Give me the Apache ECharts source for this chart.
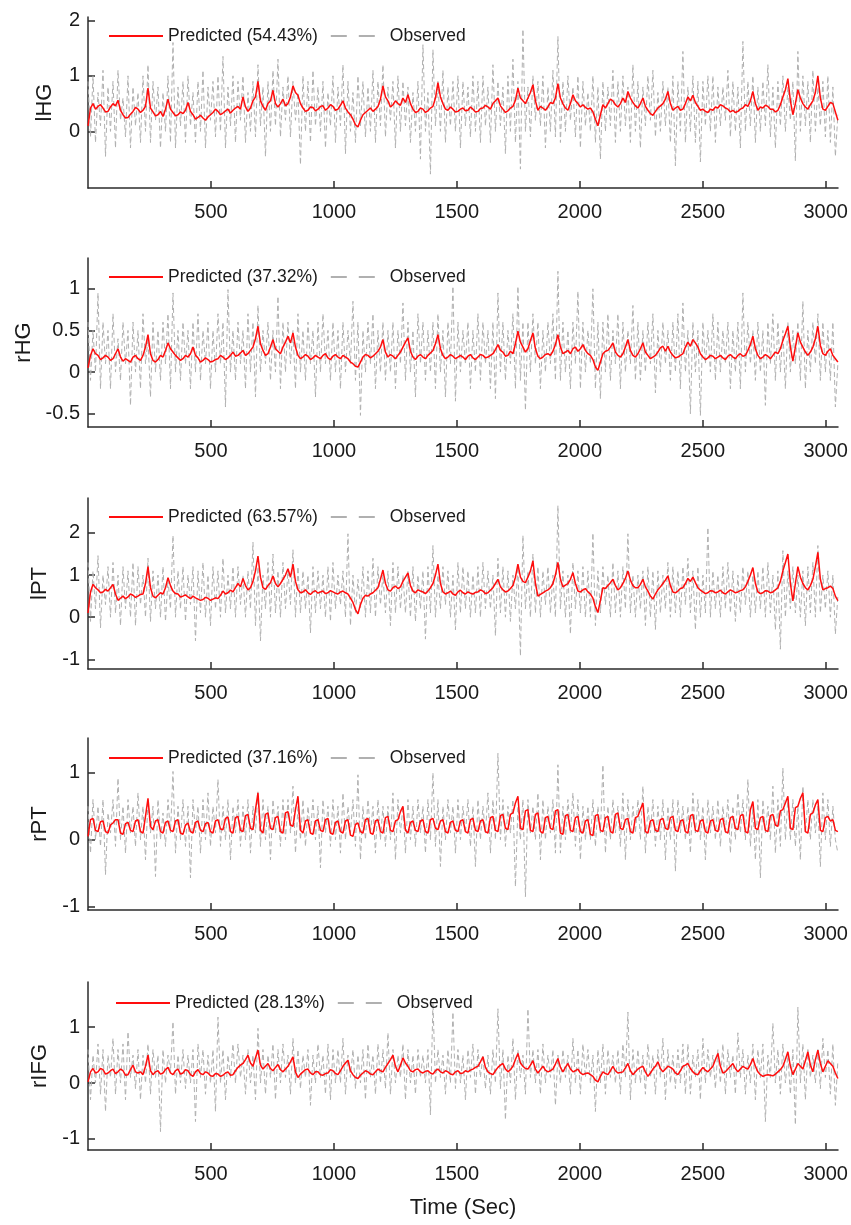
<!DOCTYPE html>
<html>
<head>
<meta charset="utf-8">
<title>Predicted vs observed</title>
<script src="https://cdn.jsdelivr.net/npm/echarts@6/dist/echarts.min.js"></script>
<style>
html, body { margin: 0; padding: 0; background: #fff; }
#chart { width: 851px; height: 1225px; }
</style>
</head>
<body>
<div id="chart"></div>
<script>
// sampling interval of the traces, in seconds
const STEP = 10.165
const timeTicks = [500, 1000, 1500, 2000, 2500, 3000]
const regions = ['lHG', 'rHG', 'lPT', 'rPT', 'rIFG']
const fitPct = ['54.43%', '37.32%', '63.57%', '37.16%', '28.13%']

const lhgTicks = [0, 1, 2]
const rhgTicks = [-0.5, 0, 0.5, 1]
const lptTicks = [-1, 0, 1, 2]
const rptTicks = [-1, 0, 1]
const rifgTicks = [-1, 0, 1]

const lhgPred = [
	0.1, 0.42, 0.5, 0.4, 0.45, 0.48, 0.42, 0.35, 0.36, 0.44, 0.5, 0.46, 0.56, 0.38, 0.3, 0.24, 0.25, 0.31, 0.36, 0.43,
	0.4, 0.34, 0.38, 0.45, 0.78, 0.42, 0.35, 0.28, 0.3, 0.36, 0.27, 0.4, 0.58, 0.4, 0.34, 0.28, 0.3, 0.35, 0.32, 0.38,
	0.52, 0.36, 0.3, 0.22, 0.25, 0.29, 0.24, 0.2, 0.26, 0.3, 0.34, 0.4, 0.36, 0.3, 0.33, 0.37, 0.4, 0.33, 0.38, 0.42,
	0.45, 0.4, 0.62, 0.44, 0.36, 0.42, 0.55, 0.62, 0.9, 0.55, 0.45, 0.38, 0.5, 0.55, 0.74, 0.5, 0.44, 0.5, 0.58, 0.46,
	0.5, 0.62, 0.82, 0.7, 0.65, 0.5, 0.42, 0.36, 0.38, 0.44, 0.43, 0.37, 0.4, 0.45, 0.46, 0.38, 0.42, 0.48, 0.45, 0.38,
	0.4, 0.47, 0.55, 0.42, 0.35, 0.3, 0.22, 0.12, 0.08, 0.2, 0.3, 0.34, 0.38, 0.42, 0.36, 0.4, 0.45, 0.58, 0.82, 0.62,
	0.55, 0.44, 0.48, 0.55, 0.5, 0.47, 0.6, 0.52, 0.66, 0.5, 0.4, 0.34, 0.36, 0.42, 0.4, 0.34, 0.37, 0.42, 0.45, 0.6,
	0.88, 0.62, 0.5, 0.4, 0.38, 0.44, 0.4, 0.35, 0.36, 0.4, 0.42, 0.37, 0.38, 0.44, 0.4, 0.35, 0.36, 0.41, 0.42, 0.47,
	0.44, 0.4, 0.5, 0.55, 0.6, 0.46, 0.4, 0.34, 0.37, 0.42, 0.45, 0.56, 0.78, 0.6, 0.55, 0.5, 0.6, 0.7, 0.84, 0.55,
	0.38, 0.45, 0.42, 0.38, 0.44, 0.52, 0.5, 0.6, 0.86, 0.6, 0.5, 0.42, 0.38, 0.5, 0.66, 0.55, 0.5, 0.44, 0.48, 0.43,
	0.4, 0.42, 0.35, 0.22, 0.1, 0.3, 0.48, 0.42, 0.5, 0.58, 0.55, 0.48, 0.44, 0.5, 0.6, 0.52, 0.72, 0.6, 0.52, 0.46,
	0.42, 0.5, 0.6, 0.45, 0.38, 0.32, 0.29, 0.36, 0.42, 0.46, 0.5, 0.58, 0.72, 0.5, 0.38, 0.42, 0.45, 0.38, 0.4, 0.5,
	0.62, 0.55, 0.65, 0.52, 0.45, 0.38, 0.4, 0.36, 0.34, 0.4, 0.38, 0.44, 0.42, 0.48, 0.46, 0.42, 0.4, 0.35, 0.38, 0.34,
	0.36, 0.4, 0.42, 0.48, 0.45, 0.55, 0.72, 0.5, 0.38, 0.44, 0.42, 0.47, 0.45, 0.4, 0.4, 0.35, 0.38, 0.48, 0.62, 0.75,
	0.95, 0.55, 0.3, 0.5, 0.75, 0.6, 0.5, 0.44, 0.4, 0.48, 0.55, 0.7, 1.0, 0.6, 0.4, 0.38, 0.45, 0.52, 0.5, 0.35,
	0.2,
]
const lhgObs = [
	0.9, -0.1, 1.0, -0.2, 0.7, 0.1, 1.1, -0.45, 0.8, 0.0, 0.9, -0.3, 1.1, 0.2, 0.6, -0.1, 1.0, -0.3, 0.8, 0.1,
	0.7, -0.2, 1.0, 0.0, 1.2, -0.2, 0.9, 0.2, 0.8, -0.3, 0.7, 0.0, 1.0, -0.2, 1.6, -0.3, 0.8, 0.1, 0.9, -0.2,
	1.0, 0.1, 0.7, -0.2, 0.9, 0.0, 1.1, -0.3, 0.8, 0.2, 0.9, -0.1, 1.0, 0.0, 1.35, -0.3, 0.8, 0.1, 1.0, -0.2,
	0.9, 0.2, 1.0, -0.2, 0.7, 0.0, 0.9, -0.1, 1.2, 0.1, 0.8, -0.45, 0.9, 0.0, 1.1, 0.1, 1.3, -0.1, 0.8, 0.2,
	1.0, -0.1, 0.9, 0.2, 0.7, -0.6, 1.0, 0.0, 0.9, -0.2, 1.1, 0.1, 0.8, 0.0, 0.9, -0.3, 0.7, 0.1, 1.0, -0.2,
	0.8, 0.1, 1.2, -0.4, 0.9, 0.0, 0.7, -0.2, 1.0, 0.1, 0.9, -0.1, 0.8, 0.0, 1.1, -0.2, 0.9, 0.1, 1.2, -0.1,
	0.8, 0.2, 0.9, -0.3, 1.0, 0.0, 0.9, 0.1, 0.8, -0.2, 0.7, 0.0, 0.9, -0.5, 1.56, 0.0, 0.7, -0.77, 1.47, 0.1,
	0.9, 0.0, 1.1, -0.2, 0.8, 0.1, 0.9, 0.0, 1.0, -0.3, 0.9, 0.1, 0.8, -0.1, 1.0, 0.0, 0.9, -0.2, 1.0, 0.1,
	0.8, -0.2, 1.2, 0.0, 0.9, 0.1, 0.8, -0.4, 1.0, 0.0, 1.3, -0.2, 0.9, -0.68, 1.84, 0.0, 0.8, -0.1, 1.0, 0.2,
	0.9, 0.1, 1.0, -0.3, 0.8, 0.0, 1.1, -0.1, 1.71, -0.2, 0.9, 0.0, 1.0, 0.2, 0.8, -0.1, 1.0, -0.3, 0.9, 0.1,
	0.7, 0.0, 1.0, -0.2, 0.8, -0.5, 0.9, 0.0, 0.8, 0.1, 1.1, -0.2, 0.9, 0.0, 1.0, 0.1, 0.8, -0.2, 1.2, 0.0,
	0.9, -0.3, 0.8, 0.1, 1.0, 0.2, 1.1, -0.1, 0.7, 0.0, 0.9, 0.1, 0.8, -0.2, 1.0, -0.62, 0.9, 0.0, 1.44, -0.2,
	0.8, 0.0, 1.0, -0.2, 0.9, -0.55, 0.9, 0.1, 1.0, 0.0, 1.0, -0.2, 0.8, 0.1, 0.8, 0.2, 1.1, -0.1, 0.9, 0.0,
	0.8, -0.3, 1.62, 0.0, 0.9, 0.1, 1.0, -0.2, 0.8, 0.0, 0.9, 0.1, 1.2, -0.1, 0.8, -0.3, 0.9, 0.1, 1.0, 0.0,
	0.8, 0.2, 0.9, -0.53, 1.44, 0.0, 1.0, 0.1, 0.9, -0.2, 1.1, 0.0, 0.8, 0.1, 0.9, -0.1, 1.0, -0.2, 0.8, -0.45,
	0.3,
]

const rhgPred = [
	0.05, 0.2, 0.28, 0.22, 0.2, 0.15, 0.17, 0.2, 0.18, 0.14, 0.16, 0.22, 0.28, 0.18, 0.13, 0.16, 0.14, 0.12, 0.18, 0.2,
	0.16, 0.14, 0.2, 0.3, 0.45, 0.22, 0.14, 0.12, 0.15, 0.2, 0.18, 0.26, 0.35, 0.28, 0.24, 0.2, 0.17, 0.14, 0.16, 0.2,
	0.18, 0.22, 0.3, 0.2, 0.17, 0.12, 0.14, 0.17, 0.15, 0.12, 0.13, 0.15, 0.16, 0.2, 0.18, 0.15, 0.17, 0.2, 0.24, 0.19,
	0.2, 0.23, 0.26, 0.2, 0.22, 0.26, 0.3, 0.4, 0.55, 0.34, 0.26, 0.2, 0.22, 0.3, 0.39, 0.28, 0.25, 0.22, 0.3, 0.36,
	0.43, 0.35, 0.47, 0.3, 0.2, 0.16, 0.18, 0.21, 0.19, 0.15, 0.17, 0.2, 0.18, 0.16, 0.2, 0.22, 0.17, 0.15, 0.19, 0.21,
	0.18, 0.16, 0.2, 0.18, 0.16, 0.12, 0.1, 0.07, 0.06, 0.12, 0.18, 0.21, 0.2, 0.17, 0.19, 0.22, 0.25, 0.3, 0.39, 0.24,
	0.18, 0.21, 0.19, 0.16, 0.2, 0.24, 0.3, 0.36, 0.41, 0.25, 0.18, 0.15, 0.19, 0.21, 0.18, 0.16, 0.2, 0.23, 0.26, 0.34,
	0.45, 0.28, 0.2, 0.16, 0.18, 0.21, 0.19, 0.16, 0.18, 0.2, 0.18, 0.15, 0.19, 0.21, 0.17, 0.15, 0.18, 0.21, 0.2, 0.17,
	0.18, 0.2, 0.22, 0.27, 0.33, 0.26, 0.24, 0.19, 0.2, 0.25, 0.22, 0.34, 0.49, 0.36, 0.3, 0.24, 0.28, 0.38, 0.47, 0.28,
	0.19, 0.16, 0.18, 0.21, 0.22, 0.2, 0.25, 0.33, 0.45, 0.3, 0.22, 0.24, 0.26, 0.22, 0.28, 0.3, 0.25, 0.28, 0.33, 0.26,
	0.22, 0.2, 0.15, 0.06, 0.02, 0.12, 0.22, 0.25, 0.26, 0.3, 0.35, 0.24, 0.2, 0.18, 0.22, 0.3, 0.39, 0.26, 0.2, 0.18,
	0.22, 0.28, 0.35, 0.24, 0.2, 0.16, 0.18, 0.2, 0.24, 0.29, 0.31, 0.25, 0.31, 0.24, 0.2, 0.17, 0.18, 0.2, 0.22, 0.3,
	0.36, 0.31, 0.39, 0.35, 0.3, 0.22, 0.18, 0.15, 0.17, 0.2, 0.19, 0.16, 0.18, 0.2, 0.17, 0.15, 0.19, 0.21, 0.18, 0.16,
	0.2, 0.22, 0.19, 0.2, 0.26, 0.33, 0.43, 0.28, 0.2, 0.16, 0.18, 0.21, 0.19, 0.16, 0.2, 0.24, 0.22, 0.28, 0.38, 0.46,
	0.55, 0.3, 0.13, 0.3, 0.47, 0.36, 0.3, 0.24, 0.2, 0.24, 0.3, 0.4, 0.55, 0.32, 0.22, 0.2, 0.25, 0.28, 0.2, 0.16,
	0.12,
]
const rhgObs = [
	0.6, -0.1, 0.5, 0.0, 0.95, -0.2, 0.6, 0.1, 0.5, -0.2, 0.7, 0.0, 0.4, -0.1, 0.6, 0.1, 0.5, -0.4, 0.6, 0.0,
	0.5, -0.2, 0.7, 0.1, 0.4, -0.3, 0.6, 0.0, 0.5, -0.1, 0.6, 0.1, 0.7, -0.2, 0.95, 0.0, 0.5, -0.1, 0.6, 0.1,
	0.5, -0.2, 0.6, 0.0, 0.7, -0.1, 0.5, 0.1, 0.6, -0.2, 0.5, 0.0, 0.7, 0.1, 0.6, -0.42, 0.99, 0.0, 0.5, -0.1,
	0.6, 0.1, 0.5, -0.2, 0.7, 0.0, 0.6, -0.3, 0.8, 0.0, 0.5, 0.1, 0.6, -0.1, 0.5, 0.0, 0.91, -0.2, 0.6, 0.0,
	0.6, 0.1, 0.5, -0.2, 0.7, 0.0, 0.5, -0.1, 0.6, 0.1, 0.5, -0.3, 0.6, 0.0, 0.7, 0.1, 0.5, -0.1, 0.6, 0.0,
	0.5, -0.2, 0.6, 0.0, 0.5, 0.1, 0.85, -0.1, 0.6, -0.52, 0.5, 0.0, 0.6, 0.1, 0.7, -0.2, 0.5, 0.0, 0.6, -0.1,
	0.5, 0.0, 0.6, -0.2, 0.5, 0.1, 0.83, -0.1, 0.6, 0.0, 0.5, -0.3, 0.7, 0.1, 0.6, -0.1, 0.5, 0.0, 0.6, -0.2,
	0.7, 0.0, 0.5, -0.3, 0.6, 0.1, 1.03, -0.35, 0.6, 0.0, 0.5, 0.1, 0.6, -0.2, 0.5, 0.0, 0.7, -0.1, 0.6, 0.1,
	0.5, -0.2, 0.6, -0.32, 0.95, 0.0, 0.6, -0.1, 0.5, 0.1, 0.7, -0.2, 1.03, -0.1, 0.6, -0.46, 0.6, 0.0, 0.7, 0.1,
	0.6, -0.2, 0.5, 0.0, 0.6, 0.1, 0.7, -0.1, 1.21, -0.1, 0.6, 0.0, 0.5, -0.2, 0.6, 0.1, 0.97, -0.2, 0.6, 0.0,
	0.5, 0.1, 1.0, -0.2, 0.6, -0.32, 0.6, 0.0, 0.7, -0.1, 0.5, 0.1, 0.7, -0.2, 0.6, 0.0, 0.5, 0.1, 0.8, -0.1,
	0.6, -0.1, 0.5, 0.0, 0.6, 0.1, 0.7, -0.25, 0.5, 0.0, 0.6, 0.1, 0.5, -0.1, 0.6, 0.0, 0.7, -0.2, 0.83, 0.0,
	0.5, -0.5, 0.6, 0.0, 0.5, -0.52, 0.6, 0.1, 0.5, 0.0, 0.7, -0.1, 0.6, 0.0, 0.5, 0.1, 0.6, -0.2, 0.5, 0.0,
	0.6, -0.2, 0.95, 0.0, 0.6, 0.1, 0.5, -0.1, 0.6, 0.0, 0.5, -0.4, 0.6, 0.1, 0.7, -0.1, 0.6, 0.0, 0.5, -0.2,
	0.6, 0.0, 0.5, 0.1, 0.6, -0.1, 0.85, -0.2, 0.5, 0.0, 0.6, 0.1, 0.7, -0.1, 0.6, 0.0, 0.5, -0.1, 0.6, -0.42,
	0.1,
]

const lptPred = [
	0.1, 0.6, 0.78, 0.7, 0.65, 0.58, 0.6, 0.66, 0.62, 0.7, 0.78, 0.55, 0.4, 0.45, 0.5, 0.44, 0.48, 0.55, 0.52, 0.47,
	0.5, 0.54, 0.55, 0.8, 1.2, 0.7, 0.5, 0.46, 0.52, 0.58, 0.55, 0.7, 0.94, 0.75, 0.62, 0.56, 0.55, 0.48, 0.5, 0.53,
	0.48, 0.44, 0.5, 0.46, 0.43, 0.4, 0.42, 0.47, 0.45, 0.4, 0.43, 0.46, 0.44, 0.52, 0.62, 0.55, 0.58, 0.64, 0.6, 0.7,
	0.8, 0.72, 0.92, 0.75, 0.65, 0.7, 0.85, 1.1, 1.45, 0.95, 0.7, 0.66, 0.75, 0.82, 0.98, 0.8, 0.72, 0.8, 0.9, 1.0,
	1.15, 0.95, 1.26, 0.85, 0.65, 0.58, 0.6, 0.65, 0.58, 0.54, 0.6, 0.63, 0.57, 0.6, 0.62, 0.56, 0.58, 0.63, 0.6, 0.57,
	0.55, 0.6, 0.62, 0.58, 0.55, 0.45, 0.35, 0.18, 0.08, 0.3, 0.45, 0.52, 0.5, 0.55, 0.58, 0.64, 0.7, 0.9, 1.12, 0.8,
	0.65, 0.62, 0.7, 0.74, 0.68, 0.72, 0.85, 0.95, 1.05, 0.75, 0.62, 0.58, 0.65, 0.62, 0.6, 0.56, 0.62, 0.7, 0.8, 1.0,
	1.26, 0.8, 0.6, 0.55, 0.58, 0.62, 0.55, 0.52, 0.6, 0.64, 0.58, 0.55, 0.6, 0.57, 0.55, 0.59, 0.6, 0.65, 0.62, 0.56,
	0.58, 0.64, 0.7, 0.8, 0.9, 0.72, 0.65, 0.6, 0.62, 0.68, 0.75, 0.95, 1.26, 0.95, 0.85, 0.82, 0.95, 1.1, 1.34, 0.8,
	0.5, 0.54, 0.58, 0.62, 0.65, 0.7, 0.8, 1.0, 1.3, 0.9, 0.72, 0.76, 0.8, 0.9, 1.06, 0.8, 0.62, 0.6, 0.65, 0.68,
	0.6, 0.55, 0.45, 0.25, 0.11, 0.4, 0.7, 0.68, 0.75, 0.82, 0.9, 0.75, 0.65, 0.7, 0.8, 0.92, 1.1, 0.88, 0.75, 0.7,
	0.7, 0.78, 0.9, 0.72, 0.62, 0.5, 0.43, 0.55, 0.65, 0.72, 0.8, 0.88, 0.98, 0.75, 0.6, 0.58, 0.62, 0.68, 0.7, 0.8,
	0.92, 0.85, 0.95, 0.82, 0.7, 0.64, 0.6, 0.56, 0.58, 0.63, 0.62, 0.58, 0.6, 0.64, 0.58, 0.55, 0.6, 0.65, 0.62, 0.58,
	0.6, 0.63, 0.65, 0.72, 0.85, 1.0, 1.18, 0.8, 0.6, 0.56, 0.58, 0.63, 0.62, 0.58, 0.6, 0.65, 0.7, 0.85, 1.1, 1.3,
	1.5, 0.8, 0.39, 0.8, 1.2, 0.95, 0.8, 0.7, 0.65, 0.75, 0.9, 1.2, 1.54, 0.9, 0.65, 0.68, 0.7, 0.74, 0.68, 0.5,
	0.39,
]
const lptObs = [
	1.3, -0.1, 1.1, 0.2, 1.46, -0.25, 1.0, 0.3, 1.2, 0.0, 1.3, 0.1, 1.0, -0.2, 1.2, 0.2, 1.1, 0.0, 1.3, -0.2,
	1.2, 0.3, 1.0, 0.0, 1.4, -0.1, 1.1, 0.2, 1.0, 0.0, 1.2, -0.1, 0.9, 0.2, 1.94, 0.0, 1.1, 0.2, 1.2, -0.1,
	1.0, 0.3, 1.2, -0.56, 1.1, 0.1, 1.3, 0.0, 1.0, -0.2, 1.2, 0.2, 1.1, 0.0, 1.4, 0.1, 1.0, 0.2, 1.2, 0.0,
	1.2, 0.3, 1.0, 0.0, 1.1, 0.2, 1.78, -0.2, 1.2, -0.56, 1.0, 0.2, 1.3, 0.0, 1.5, 0.1, 1.1, 0.0, 1.3, 0.2,
	1.1, 0.3, 1.6, 0.0, 1.2, 0.1, 1.1, 0.2, 1.0, -0.37, 1.2, 0.1, 1.1, 0.2, 1.0, 0.0, 1.2, -0.1, 1.3, 0.2,
	1.0, 0.3, 1.1, 0.0, 1.98, -0.2, 1.0, 0.1, 0.9, 0.2, 1.2, 0.0, 1.1, 0.1, 1.4, 0.0, 1.2, 0.3, 1.0, 0.1,
	1.1, -0.2, 1.3, 0.1, 1.2, 0.2, 1.0, 0.1, 1.1, 0.0, 1.2, -0.1, 1.0, 0.2, 1.1, -0.52, 1.2, 0.1, 1.7, 0.0,
	1.0, 0.2, 1.2, 0.3, 1.1, 0.0, 1.0, -0.3, 1.3, 0.1, 1.2, 0.2, 1.1, 0.0, 1.0, 0.1, 1.2, 0.0, 1.3, 0.2,
	1.1, 0.2, 1.0, -0.44, 1.4, 0.1, 1.2, 0.0, 1.1, -0.1, 1.0, 0.2, 1.2, -0.92, 1.94, 0.2, 1.1, 0.0, 1.5, 0.1,
	1.2, 0.0, 1.1, 0.3, 1.2, 0.1, 1.0, 0.0, 2.65, 0.2, 1.1, 0.0, 1.0, -0.4, 1.3, 0.2, 1.1, 0.1, 1.2, 0.0,
	1.1, 0.0, 2.0, -0.2, 1.1, 0.1, 1.2, 0.3, 1.0, 0.0, 1.3, 0.1, 1.1, 0.0, 1.2, 0.2, 1.98, 0.1, 1.0, 0.0,
	1.0, 0.2, 1.1, -0.2, 1.2, 0.0, 1.1, -0.29, 1.1, 0.1, 1.0, 0.2, 1.3, 0.0, 1.2, 0.1, 1.1, 0.0, 1.2, 0.3,
	1.4, 0.1, 1.1, -0.3, 1.2, 0.0, 1.0, 0.1, 2.13, 0.0, 1.1, 0.2, 1.0, 0.0, 1.2, 0.2, 1.3, 0.1, 1.1, -0.1,
	1.0, 0.1, 1.2, 0.3, 1.1, 0.0, 1.0, 0.1, 1.1, 0.2, 1.2, 0.0, 1.3, 0.1, 1.0, -0.3, 1.1, -0.76, 1.58, 0.0,
	1.1, 0.2, 1.2, 0.1, 1.0, 0.0, 1.1, -0.2, 1.2, 0.1, 1.3, 0.0, 1.7, 0.1, 1.0, 0.2, 1.1, 0.0, 1.0, -0.4,
	0.5,
]

const rptPred = [
	0.05, 0.3, 0.32, 0.14, 0.12, 0.27, 0.28, 0.12, 0.1, 0.22, 0.25, 0.3, 0.3, 0.1, 0.08, 0.24, 0.26, 0.14, 0.12, 0.28,
	0.3, 0.12, 0.1, 0.35, 0.62, 0.2, 0.15, 0.28, 0.3, 0.12, 0.1, 0.26, 0.28, 0.14, 0.12, 0.28, 0.3, 0.1, 0.08, 0.22,
	0.25, 0.12, 0.1, 0.26, 0.28, 0.14, 0.12, 0.24, 0.26, 0.12, 0.1, 0.28, 0.3, 0.16, 0.15, 0.32, 0.34, 0.12, 0.1, 0.33,
	0.35, 0.14, 0.12, 0.36, 0.38, 0.17, 0.15, 0.45, 0.7, 0.14, 0.1, 0.38, 0.4, 0.17, 0.15, 0.33, 0.35, 0.12, 0.1, 0.4,
	0.42, 0.22, 0.2, 0.45, 0.65, 0.14, 0.1, 0.28, 0.3, 0.1, 0.08, 0.28, 0.3, 0.14, 0.12, 0.3, 0.32, 0.1, 0.08, 0.26,
	0.28, 0.12, 0.1, 0.28, 0.3, 0.07, 0.05, 0.23, 0.25, 0.12, 0.1, 0.3, 0.32, 0.1, 0.08, 0.28, 0.3, 0.12, 0.1, 0.33,
	0.35, 0.14, 0.12, 0.28, 0.3, 0.42, 0.5, 0.14, 0.1, 0.26, 0.28, 0.14, 0.12, 0.28, 0.3, 0.12, 0.1, 0.3, 0.32, 0.17,
	0.15, 0.28, 0.3, 0.12, 0.1, 0.26, 0.28, 0.14, 0.12, 0.28, 0.3, 0.12, 0.1, 0.3, 0.32, 0.14, 0.12, 0.28, 0.3, 0.12,
	0.1, 0.33, 0.35, 0.14, 0.12, 0.36, 0.38, 0.17, 0.15, 0.38, 0.4, 0.55, 0.65, 0.17, 0.15, 0.43, 0.45, 0.14, 0.12, 0.38,
	0.4, 0.12, 0.1, 0.33, 0.35, 0.17, 0.15, 0.43, 0.45, 0.1, 0.08, 0.36, 0.38, 0.14, 0.12, 0.33, 0.35, 0.12, 0.1, 0.28,
	0.3, 0.08, 0.06, 0.36, 0.38, 0.14, 0.12, 0.33, 0.35, 0.12, 0.1, 0.38, 0.4, 0.17, 0.15, 0.3, 0.32, 0.12, 0.1, 0.33,
	0.35, 0.45, 0.55, 0.12, 0.1, 0.28, 0.3, 0.14, 0.12, 0.3, 0.32, 0.17, 0.15, 0.33, 0.35, 0.14, 0.12, 0.28, 0.3, 0.12,
	0.1, 0.36, 0.38, 0.14, 0.12, 0.28, 0.3, 0.12, 0.1, 0.28, 0.3, 0.14, 0.12, 0.3, 0.32, 0.12, 0.1, 0.33, 0.35, 0.17,
	0.15, 0.36, 0.38, 0.12, 0.1, 0.45, 0.57, 0.17, 0.15, 0.33, 0.35, 0.14, 0.12, 0.36, 0.38, 0.22, 0.2, 0.43, 0.45, 0.55,
	0.65, 0.17, 0.15, 0.48, 0.5, 0.62, 0.7, 0.12, 0.1, 0.38, 0.4, 0.52, 0.6, 0.14, 0.12, 0.33, 0.35, 0.28, 0.3, 0.14,
	0.12,
]
const rptObs = [
	0.5, -0.2, 0.6, 0.0, 0.5, -0.1, 0.6, -0.52, 0.4, 0.1, 0.6, -0.1, 0.92, 0.0, 0.5, -0.2, 0.6, 0.1, 0.5, -0.1,
	0.7, 0.0, 0.5, -0.3, 0.6, 0.1, 0.5, -0.55, 0.6, 0.0, 0.4, -0.1, 0.6, 0.1, 1.02, -0.2, 0.5, 0.0, 0.6, -0.1,
	0.5, -0.57, 0.6, 0.1, 0.5, -0.2, 0.6, 0.0, 0.7, -0.1, 0.5, 0.1, 0.9, -0.1, 0.5, 0.0, 0.6, -0.3, 0.5, 0.1,
	0.6, -0.1, 0.5, 0.0, 0.6, -0.2, 0.5, 0.1, 0.72, -0.1, 0.6, 0.0, 0.5, -0.3, 0.6, 0.1, 0.5, -0.1, 0.6, 0.0,
	0.6, 0.1, 0.8, -0.2, 0.5, 0.0, 0.6, -0.1, 0.5, 0.1, 0.6, 0.0, 0.5, -0.42, 0.6, 0.1, 0.5, -0.1, 0.6, 0.0,
	0.5, -0.2, 0.7, 0.0, 0.5, 0.1, 0.6, -0.1, 0.97, -0.3, 0.5, 0.0, 0.6, 0.1, 0.5, -0.2, 0.6, 0.0, 0.5, -0.1,
	0.5, 0.0, 0.7, -0.3, 0.6, 0.1, 0.5, -0.2, 0.6, 0.0, 0.5, -0.1, 0.6, 0.1, 0.5, -0.2, 0.6, 0.0, 1.0, -0.1,
	0.6, -0.4, 0.5, 0.0, 0.6, 0.1, 0.5, -0.2, 0.6, 0.0, 0.5, 0.1, 0.6, -0.1, 0.5, -0.4, 0.6, 0.0, 0.5, 0.1,
	0.7, -0.2, 0.6, 0.0, 1.29, 0.0, 0.6, -0.1, 0.5, 0.1, 0.6, -0.7, 0.5, 0.0, 0.6, -0.85, 0.6, 0.1, 0.5, 0.0,
	0.7, -0.3, 0.6, 0.0, 0.5, 0.1, 0.6, -0.2, 1.12, -0.2, 0.5, 0.0, 0.6, 0.1, 0.7, -0.1, 0.6, -0.3, 0.5, 0.0,
	0.5, 0.0, 0.6, -0.1, 0.5, 0.1, 1.12, -0.2, 0.5, 0.0, 0.6, 0.1, 0.5, -0.1, 0.7, -0.3, 0.6, 0.0, 0.5, 0.1,
	0.6, 0.0, 0.8, -0.2, 0.5, 0.1, 0.6, -0.1, 0.5, 0.0, 0.6, -0.3, 0.5, 0.0, 0.6, -0.47, 0.6, 0.1, 0.5, 0.0,
	0.5, -0.2, 0.7, 0.1, 0.6, 0.0, 0.5, -0.3, 0.6, 0.1, 0.5, 0.0, 0.6, -0.1, 0.5, 0.1, 0.6, -0.2, 0.5, 0.0,
	0.7, 0.1, 0.6, 0.0, 0.9, -0.1, 0.5, -0.3, 0.6, -0.57, 0.6, 0.1, 0.5, 0.0, 0.8, -0.2, 0.6, -0.1, 1.07, 0.0,
	0.6, 0.0, 0.6, -0.1, 0.5, -0.3, 0.8, 0.1, 0.6, 0.0, 0.6, 0.1, 0.5, -0.4, 0.7, 0.0, 0.6, -0.1, 0.5, 0.0,
	-0.2,
]

const rifgPred = [
	0.02, 0.2, 0.26, 0.18, 0.2, 0.26, 0.24, 0.16, 0.18, 0.22, 0.25, 0.17, 0.2, 0.25, 0.22, 0.14, 0.15, 0.24, 0.32, 0.2,
	0.18, 0.2, 0.15, 0.3, 0.5, 0.22, 0.15, 0.2, 0.22, 0.16, 0.18, 0.24, 0.28, 0.18, 0.15, 0.22, 0.25, 0.16, 0.18, 0.24,
	0.22, 0.15, 0.12, 0.2, 0.24, 0.17, 0.15, 0.2, 0.18, 0.13, 0.12, 0.17, 0.16, 0.12, 0.14, 0.18, 0.2, 0.14, 0.15, 0.22,
	0.28, 0.32, 0.35, 0.42, 0.5, 0.36, 0.3, 0.45, 0.59, 0.32, 0.25, 0.3, 0.35, 0.26, 0.22, 0.28, 0.33, 0.24, 0.2, 0.25,
	0.3, 0.38, 0.47, 0.2, 0.1, 0.16, 0.2, 0.24, 0.25, 0.18, 0.15, 0.2, 0.2, 0.15, 0.14, 0.17, 0.18, 0.24, 0.22, 0.17,
	0.15, 0.22, 0.3, 0.36, 0.41, 0.22, 0.15, 0.1, 0.08, 0.14, 0.18, 0.22, 0.2, 0.16, 0.15, 0.2, 0.25, 0.22, 0.2, 0.28,
	0.35, 0.42, 0.5, 0.3, 0.2, 0.32, 0.45, 0.36, 0.3, 0.22, 0.2, 0.24, 0.25, 0.2, 0.18, 0.21, 0.22, 0.18, 0.16, 0.22,
	0.25, 0.2, 0.18, 0.22, 0.2, 0.16, 0.15, 0.2, 0.22, 0.17, 0.18, 0.22, 0.2, 0.23, 0.25, 0.28, 0.3, 0.38, 0.47, 0.28,
	0.2, 0.17, 0.15, 0.22, 0.28, 0.32, 0.35, 0.25, 0.2, 0.24, 0.3, 0.42, 0.53, 0.36, 0.3, 0.26, 0.25, 0.32, 0.4, 0.25,
	0.18, 0.24, 0.3, 0.23, 0.2, 0.22, 0.25, 0.34, 0.44, 0.28, 0.2, 0.28, 0.35, 0.25, 0.2, 0.22, 0.25, 0.18, 0.15, 0.17,
	0.18, 0.15, 0.12, 0.05, 0.02, 0.12, 0.2, 0.17, 0.15, 0.22, 0.3, 0.22, 0.18, 0.19, 0.2, 0.27, 0.35, 0.22, 0.15, 0.2,
	0.25, 0.28, 0.3, 0.2, 0.12, 0.18, 0.25, 0.3, 0.38, 0.26, 0.2, 0.25, 0.3, 0.28, 0.25, 0.18, 0.15, 0.22, 0.3, 0.32,
	0.35, 0.26, 0.2, 0.16, 0.15, 0.22, 0.28, 0.23, 0.2, 0.25, 0.3, 0.42, 0.53, 0.3, 0.18, 0.2, 0.25, 0.3, 0.35, 0.26,
	0.2, 0.25, 0.3, 0.27, 0.25, 0.33, 0.44, 0.3, 0.2, 0.15, 0.12, 0.14, 0.15, 0.14, 0.13, 0.16, 0.2, 0.24, 0.3, 0.42,
	0.56, 0.3, 0.15, 0.25, 0.35, 0.3, 0.25, 0.4, 0.56, 0.32, 0.2, 0.42, 0.59, 0.35, 0.2, 0.3, 0.4, 0.35, 0.3, 0.18,
	0.08,
]
const rifgObs = [
	0.6, -0.3, 0.5, 0.0, 0.7, -0.2, 0.6, -0.51, 0.5, 0.1, 0.8, -0.2, 0.6, 0.0, 0.7, -0.3, 0.92, 0.1, 0.5, -0.1,
	0.6, -0.3, 0.5, 0.0, 0.7, -0.2, 0.6, 0.1, 0.5, -0.87, 0.6, 0.0, 0.5, 0.2, 1.1, -0.2, 0.5, 0.0, 0.6, -0.1,
	0.5, 0.0, 0.6, -0.69, 0.7, 0.1, 0.6, -0.2, 0.5, 0.0, 0.6, -0.51, 1.18, 0.0, 0.6, -0.3, 0.5, 0.1, 0.7, 0.0,
	0.7, 0.1, 0.5, -0.2, 0.6, 0.0, 0.5, -0.3, 0.98, 0.0, 0.6, -0.2, 0.5, 0.1, 0.7, -0.3, 0.6, 0.0, 0.7, 0.1,
	0.5, -0.2, 0.8, 0.0, 0.6, -0.1, 0.5, 0.1, 0.6, -0.4, 0.5, 0.0, 0.7, 0.1, 0.5, -0.2, 0.7, -0.3, 0.6, 0.0,
	0.6, 0.0, 0.8, -0.2, 0.5, 0.1, 0.6, -0.1, 0.5, 0.0, 0.6, -0.3, 0.7, 0.1, 0.5, -0.2, 0.7, 0.0, 0.6, -0.1,
	0.9, -0.2, 0.6, 0.0, 0.5, 0.1, 0.7, -0.3, 0.6, 0.0, 0.5, -0.2, 0.6, 0.1, 0.5, 0.0, 0.6, -0.57, 1.45, 0.0,
	0.6, 0.1, 0.5, -0.2, 0.6, 0.0, 1.27, -0.1, 0.6, 0.0, 0.5, -0.3, 0.6, 0.1, 0.7, -0.2, 0.6, 0.1, 0.5, -0.1,
	0.5, -0.2, 0.6, 0.0, 1.33, -0.1, 0.6, -0.66, 0.5, 0.0, 0.8, -0.3, 0.6, 0.1, 0.5, -0.2, 1.33, 0.1, 0.6, 0.0,
	0.6, -0.2, 0.7, 0.0, 0.5, 0.1, 0.6, -0.4, 0.5, 0.0, 0.6, 0.1, 0.5, -0.2, 0.8, 0.0, 0.6, -0.2, 0.7, 0.1,
	0.6, 0.0, 0.5, -0.51, 0.6, 0.0, 0.7, -0.2, 0.6, 0.1, 0.5, 0.0, 0.6, -0.2, 0.7, 0.1, 1.27, -0.3, 0.6, 0.0,
	0.6, 0.0, 0.5, -0.2, 0.7, 0.1, 0.5, -0.2, 0.6, 0.1, 0.8, -0.3, 0.6, 0.0, 0.5, -0.1, 0.6, 0.0, 0.7, -0.2,
	0.7, -0.2, 0.5, 0.1, 0.6, -0.3, 0.8, 0.0, 0.6, 0.1, 0.5, -0.1, 0.6, 0.0, 0.7, -0.2, 0.6, 0.1, 0.5, -0.2,
	0.9, 0.1, 0.6, -0.2, 0.5, 0.0, 0.7, -0.3, 0.6, 0.1, 0.7, -0.69, 0.5, 0.1, 1.07, 0.0, 0.6, -0.2, 0.7, 0.0,
	0.5, -0.2, 0.6, -0.75, 1.36, 0.0, 0.7, -0.3, 0.6, 0.1, 0.5, 0.0, 0.6, -0.1, 0.8, 0.1, 0.6, -0.2, 0.7, -0.4,
	0.4,
]

const predicted = [lhgPred, rhgPred, lptPred, rptPred, rifgPred]
const observed = [lhgObs, rhgObs, lptObs, rptObs, rifgObs]
const yTicks = [lhgTicks, rhgTicks, lptTicks, rptTicks, rifgTicks]

// layout of the five stacked panels (pixels / axis limits)
const panels = [
	{ top: 17, height: 171, min: -1.02, max: 2.06, legendTop: 27, legendLeft: 108 },
	{ top: 258, height: 169, min: -0.66, max: 1.37, legendTop: 268, legendLeft: 108 },
	{ top: 498, height: 171, min: -1.23, max: 2.83, legendTop: 508, legendLeft: 108 },
	{ top: 738, height: 172, min: -1.05, max: 1.52, legendTop: 749, legendLeft: 108 },
	{ top: 982, height: 168, min: -1.2, max: 1.81, legendTop: 994, legendLeft: 115 },
]

const FONT = "'Liberation Sans', Arial, sans-serif"
const TEXT = '#1a1a1a'
const AXIS = '#2b2b2b'
const RED = '#ff0d0d'
const GRAY = '#b0b0b0'

const toPairs = (values) => values.map((v, i) => [i * STEP, v])
const plain = (v) => String(v)

let option = {
	backgroundColor: '#fff',
	animation: false,
	grid: [],
	xAxis: [],
	yAxis: [],
	legend: [],
	series: [],
}

panels.forEach((p, k) => {
	const predName = `Predicted (${fitPct[k]})`
	option.grid.push({ left: 88, right: 13, top: p.top, height: p.height })
	option.xAxis.push({
		gridIndex: k,
		type: 'value',
		min: 0,
		max: 3050,
		axisLine: { show: true, onZero: false, lineStyle: { color: AXIS, width: 1.5 } },
		axisTick: { show: true, inside: true, length: 7, customValues: timeTicks, lineStyle: { color: AXIS, width: 1.5 } },
		axisLabel: { customValues: timeTicks, formatter: plain, fontFamily: FONT, fontSize: 20, color: TEXT, margin: 14 },
		splitLine: { show: false },
		name: k === 4 ? 'Time (Sec)' : '',
		nameLocation: 'middle',
		nameGap: 47,
		nameTextStyle: { fontFamily: FONT, fontSize: 22, color: TEXT },
	})
	option.yAxis.push({
		gridIndex: k,
		type: 'value',
		min: p.min,
		max: p.max,
		axisLine: { show: true, onZero: false, lineStyle: { color: AXIS, width: 1.5 } },
		axisTick: { show: true, inside: true, length: 7, customValues: yTicks[k], lineStyle: { color: AXIS, width: 1.5 } },
		axisLabel: { customValues: yTicks[k], formatter: plain, fontFamily: FONT, fontSize: 20, color: TEXT, margin: 8 },
		splitLine: { show: false },
		name: regions[k],
		nameLocation: 'middle',
		nameGap: 32,
		nameTextStyle: { fontFamily: FONT, fontSize: 22, color: TEXT },
	})
	option.legend.push({
		left: p.legendLeft,
		top: p.legendTop,
		padding: 0,
		itemWidth: 54,
		itemHeight: 14,
		itemGap: 12,
		selectedMode: false,
		textStyle: { fontFamily: FONT, fontSize: 17.5, color: TEXT },
		// hide the circle that line legends draw by default
		itemStyle: { color: 'rgba(0,0,0,0)', borderColor: 'rgba(0,0,0,0)', borderWidth: 0 },
		data: [
			{ name: predName },
			{ name: 'Observed', lineStyle: { type: [16, 12] } },
		],
	})
	option.series.push({
		name: 'Observed',
		type: 'line',
		xAxisIndex: k,
		yAxisIndex: k,
		data: toPairs(observed[k]),
		symbol: 'none',
		showSymbol: false,
		z: 1,
		itemStyle: { color: GRAY },
		lineStyle: { color: GRAY, width: 1, type: [5, 3] },
	})
	option.series.push({
		name: predName,
		type: 'line',
		xAxisIndex: k,
		yAxisIndex: k,
		data: toPairs(predicted[k]),
		symbol: 'none',
		showSymbol: false,
		z: 2,
		itemStyle: { color: RED },
		lineStyle: { color: RED, width: 1.5 },
	})
})

let myChart = echarts.init(document.getElementById('chart'), null, { renderer: 'canvas' })
myChart.setOption(option)
</script>
</body>
</html>
